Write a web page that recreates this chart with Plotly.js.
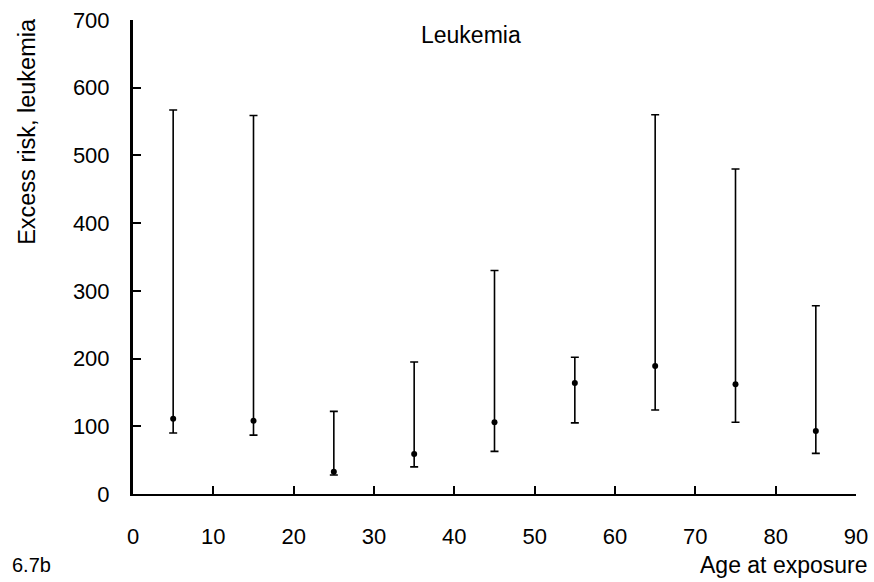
<!DOCTYPE html>
<html><head><meta charset="utf-8">
<script src="https://cdn.plot.ly/plotly-3.0.1.min.js"></script>
<style>html,body{margin:0;padding:0;background:#fff;}#chart{width:874px;height:582px;}</style>
</head><body><div id="chart"></div>
<script>
const ages = [5, 15, 25, 35, 45, 55, 65, 75, 85];
const risk = [111, 108, 33, 59, 106, 164, 189, 162, 93];
const upper = [567, 559, 122, 195, 330, 202, 560, 480, 278];
const lower = [90, 87, 28, 40, 63, 105, 124, 106, 60];
const xTicks = [0, 10, 20, 30, 40, 50, 60, 70, 80, 90];
const yTicks = [0, 100, 200, 300, 400, 500, 600, 700];

const trace = {
  x: ages, y: risk, type: 'scatter', mode: 'markers',
  marker: {color: '#000', size: 6},
  error_y: {type: 'data', symmetric: false,
    array: upper.map((u, i) => u - risk[i]),
    arrayminus: risk.map((r, i) => r - lower[i]),
    color: '#000', thickness: 1.6, width: 4},
  hoverinfo: 'none'
};
const fam = 'Liberation Sans, Arial, sans-serif';
const font = {family: fam, size: 22, color: '#000'};
const layout = {
  width: 874, height: 582,
  margin: {l: 133, r: 18, t: 20, b: 88},
  paper_bgcolor: '#fff', plot_bgcolor: '#fff',
  showlegend: false,
  font: font,
  xaxis: {range: [0, 90], tickvals: xTicks, ticktext: xTicks.map(String),
    showgrid: false, zeroline: false, showline: true, linecolor: '#000', linewidth: 2,
    ticks: 'inside', ticklen: 8, tickwidth: 2, tickcolor: '#000', ticklabelstandoff: 22,
    tickfont: font},
  yaxis: {range: [0, 700], tickvals: yTicks, ticktext: yTicks.map(String),
    showgrid: false, zeroline: false, showline: true, linecolor: '#000', linewidth: 3,
    ticks: 'inside', ticklen: 8, tickwidth: 2, tickcolor: '#000', ticklabelstandoff: 16,
    tickfont: font},
  annotations: [
    {text: 'Leukemia', xref: 'paper', yref: 'paper', x: 0.4675, y: 0.968, xanchor: 'center', yanchor: 'middle', showarrow: false, font: {family: fam, size: 23, color: '#000'}},
    {text: 'Excess risk, leukemia', xref: 'paper', yref: 'paper', x: -0.1466, y: 0.764, xanchor: 'center', yanchor: 'middle', textangle: -90, showarrow: false, font: {family: fam, size: 23.5, color: '#000'}},
    {text: 'Age at exposure', xref: 'paper', yref: 'paper', x: 1.0194, y: -0.150, xanchor: 'right', yanchor: 'middle', showarrow: false, font: {family: fam, size: 23, color: '#000'}},
    {text: '6.7b', xref: 'paper', yref: 'paper', x: -0.170, y: -0.150, xanchor: 'left', yanchor: 'middle', showarrow: false, font: {family: fam, size: 20, color: '#000'}}
  ]
};
Plotly.newPlot('chart', [trace], layout, {displayModeBar: false, staticPlot: true});
</script></body></html>
